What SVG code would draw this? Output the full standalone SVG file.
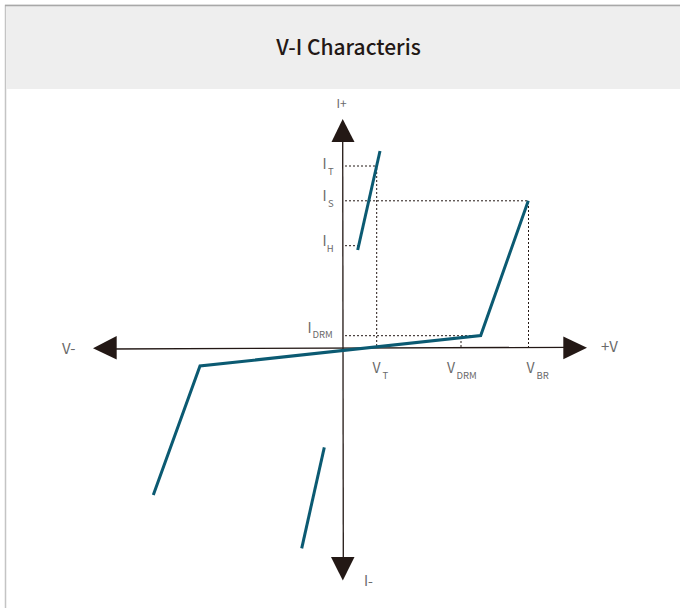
<svg xmlns="http://www.w3.org/2000/svg" width="680" height="608" viewBox="0 0 680 608">
  <defs>
    <style>
      .axis { stroke: #231815; stroke-width: 1.3; fill: none; }
      .head { fill: #231815; stroke: none; }
      .dot { stroke: #231815; stroke-width: 1; stroke-dasharray: 2 2; fill: none; }
      .curve { stroke: #0b5a72; stroke-width: 3; fill: none; stroke-linejoin: miter; }
      .lbl { font-family: "Noto Sans CJK JP", "Noto Sans", "Liberation Sans", sans-serif; font-weight: 400; fill: #6a6a6a; }
      .main { font-size: 14px; }
      .sub { font-size: 9.5px; }
      .title { font-family: "Noto Sans CJK JP", "Noto Sans", "Liberation Sans", sans-serif; font-weight: 500; font-size: 21px; fill: #231815; }
    </style>
  </defs>

  <g id="frame">
    <rect x="5.5" y="5.5" width="700" height="700" fill="#ffffff" stroke="#c4c4c4" stroke-width="1.5"/>
    <rect x="6.25" y="6" width="690" height="83" fill="#eeeeee"/>
    <line x1="5" y1="5.5" x2="690" y2="5.5" stroke="#a8a8a8" stroke-width="1.5"/>
    <text class="title" x="348.5" y="54.5" text-anchor="middle">V-I Characteris</text>
  </g>

  <g id="connectors">
    <!-- axes -->
    <line class="axis" x1="342.7" y1="135" x2="343.3" y2="562"/>
    <polygon class="head" points="342.7,119 331.5,142 354.5,142"/>
    <polygon class="head" points="342.8,580.5 331,557 354.5,557"/>
    <line class="axis" x1="110" y1="349" x2="570" y2="347.3"/>
    <polygon class="head" points="93,348.3 116.7,336 116.7,359.5"/>
    <polygon class="head" points="587,347.7 563.3,336.5 563.3,359.3"/>

    <!-- dotted guides -->
    <line class="dot" x1="345" y1="166" x2="377" y2="166"/>
    <line class="dot" x1="376.7" y1="168" x2="376.7" y2="347"/>
    <line class="dot" x1="345" y1="200.8" x2="528.5" y2="200.8"/>
    <line class="dot" x1="528.5" y1="202" x2="528.5" y2="347"/>
    <line class="dot" x1="345" y1="245.7" x2="358" y2="245.7"/>
    <line class="dot" x1="345" y1="335.7" x2="480" y2="335.7"/>
    <line class="dot" x1="461" y1="337" x2="461" y2="347"/>

    <!-- characteristic curves -->
    <polyline class="curve" points="153.3,495 200,366 480.7,335.5 528.3,200.7"/>
    <line class="curve" x1="380" y1="151" x2="357.7" y2="250"/>
    <line class="curve" x1="324.3" y1="447.3" x2="301.7" y2="548.3"/>
  </g>

  <g id="axis-labels">
    <text class="lbl" x="336.5" y="108" font-size="12">I+</text>
    <text class="lbl" x="364" y="586" font-size="14">I-</text>
    <text class="lbl" x="62" y="354" font-size="15">V-</text>
    <text class="lbl" x="601" y="352" font-size="15">+V</text>
  </g>

  <g id="label-IT">
    <text class="lbl main" x="322.5" y="169">I</text>
    <text class="lbl sub" x="328" y="175">T</text>
  </g>
  <g id="label-IS">
    <text class="lbl main" x="322.5" y="201">I</text>
    <text class="lbl sub" x="328" y="207.3">S</text>
  </g>
  <g id="label-IH">
    <text class="lbl main" x="322.5" y="246">I</text>
    <text class="lbl sub" x="326.7" y="251.7">H</text>
  </g>
  <g id="label-IDRM">
    <text class="lbl main" x="307.5" y="332.7">I</text>
    <text class="lbl sub" x="312.5" y="338.3">DRM</text>
  </g>
  <g id="label-VT">
    <text class="lbl main" x="372.5" y="373.3">V</text>
    <text class="lbl sub" x="382.5" y="379.3">T</text>
  </g>
  <g id="label-VDRM">
    <text class="lbl main" x="447" y="373.3">V</text>
    <text class="lbl sub" x="456.5" y="379.3">DRM</text>
  </g>
  <g id="label-VBR">
    <text class="lbl main" x="526.5" y="373.3">V</text>
    <text class="lbl sub" x="536.5" y="379.3">BR</text>
  </g>
</svg>
